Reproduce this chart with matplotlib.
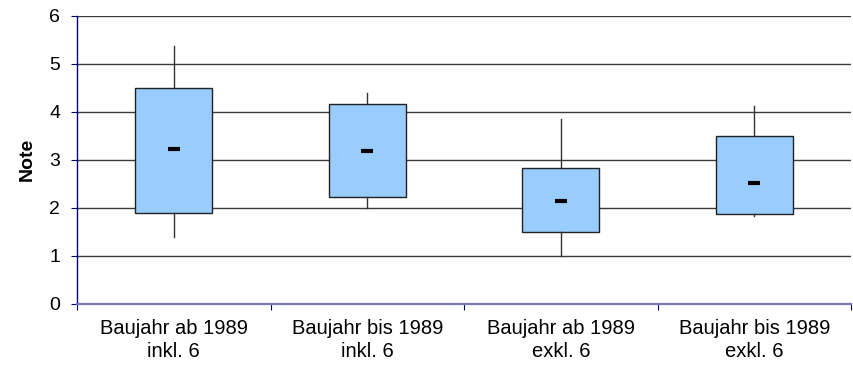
import matplotlib
matplotlib.use("Agg")
import matplotlib.pyplot as plt

plt.rcParams['font.family'] = ['Liberation Sans', 'DejaVu Sans']

categories = ["Baujahr ab 1989\ninkl. 6", "Baujahr bis 1989\ninkl. 6",
              "Baujahr ab 1989\nexkl. 6", "Baujahr bis 1989\nexkl. 6"]
whisker_low = [1.39, 2.00, 1.00, 1.83]
q1_values = [1.90, 2.22, 1.49, 1.87]
mean_values = [3.23, 3.18, 2.15, 2.52]
q3_values = [4.50, 4.16, 2.84, 3.50]
whisker_high = [5.37, 4.40, 3.85, 4.12]
y_ticks = [0, 1, 2, 3, 4, 5, 6]

fig = plt.figure(figsize=(8.54, 3.67), dpi=100)
ax = fig.add_axes([0.0902, 0.1717, 0.9965 - 0.0902, 0.9572 - 0.1717])

stats = []
for i in range(len(categories)):
    stats.append(dict(whislo=whisker_low[i], q1=q1_values[i], med=mean_values[i],
                      q3=q3_values[i], whishi=whisker_high[i], mean=mean_values[i],
                      fliers=[]))

positions = list(range(len(categories)))
ax.bxp(stats, positions=positions, widths=0.40, patch_artist=True,
       showcaps=False, showmeans=True, showfliers=False,
       boxprops=dict(facecolor='#99CCFF', edgecolor='#222222', linewidth=1.0),
       whiskerprops=dict(color='#333333', linewidth=1.0),
       medianprops=dict(visible=False),
       meanprops=dict(marker='_', markersize=8, markeredgewidth=3,
                      markeredgecolor='black', markerfacecolor='black'))

ax.set_xlim(-0.5, len(categories) - 0.5)
ax.set_ylim(0, 6)
ax.set_yticks(y_ticks)
ax.set_yticklabels([str(t) for t in y_ticks], fontsize=14)
ax.yaxis.grid(True, color='#3a3a3a', linewidth=1.0)
ax.set_axisbelow(True)

# category boundaries as major ticks, labels at centers
ax.set_xticks([p - 0.5 for p in positions] + [positions[-1] + 0.5])
ax.set_xticklabels([])
ax.set_xticks(positions, minor=True)
ax.set_xticklabels(categories, minor=True, fontsize=14.5, linespacing=1.22)
ax.tick_params(axis='x', which='minor', length=0, pad=11)
ax.tick_params(axis='x', which='major', length=4, color='#000080', direction='out')
ax.tick_params(axis='y', length=4, color='#000080', direction='out', pad=8)

ax.set_ylabel("Note", fontsize=14, fontweight='bold', labelpad=10)

for s in ['top', 'right']:
    ax.spines[s].set_visible(False)
ax.spines['left'].set_color('#000080')
ax.spines['left'].set_linewidth(1.0)
ax.spines['bottom'].set_color('#7878B8')
ax.spines['bottom'].set_linewidth(1.6)

fig.savefig("out.png", dpi=100)
